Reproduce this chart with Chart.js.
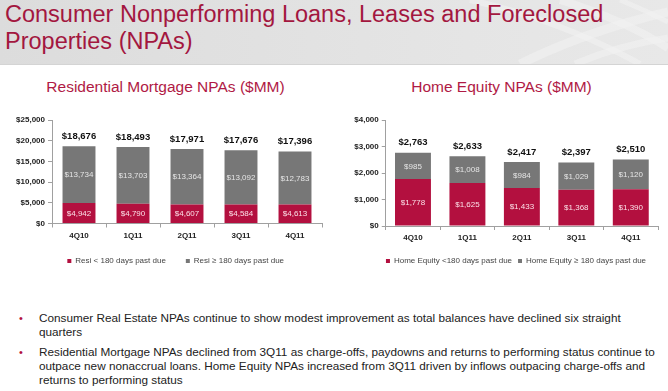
<!DOCTYPE html>
<html>
<head>
<meta charset="utf-8">
<script src="https://cdn.jsdelivr.net/npm/chart.js@4.4.1/dist/chart.umd.min.js"></script>
<style>
  html, body { margin: 0; padding: 0; background: #fff; }
  body { width: 668px; height: 391px; position: relative; overflow: hidden; font-family: "Liberation Sans", Arial, sans-serif; }
  #hdr { position: absolute; left: 0; top: 0; width: 668px; height: 64px; background: linear-gradient(to right, #dcdcdc, #e5e5e5 70%, #e8e8e8); border-bottom: 1px solid #d4d4d4; }
  #hdr svg { position: absolute; left: 0; top: 0; }
  #title { position: absolute; left: 5px; top: 1px; font-size: 23.5px; line-height: 27px; color: #a3173f; white-space: nowrap; }
  .sub { position: absolute; top: 78px; font-size: 15.5px; line-height: 17px; color: #b01a45; text-align: center; white-space: nowrap; }
  canvas { position: absolute; }
  .bl { position: absolute; left: 39px; font-size: 11.75px; line-height: 14px; color: #222; white-space: nowrap; }
  .dot { position: absolute; left: 19px; font-size: 11px; line-height: 14px; color: #b3103f; }
</style>
</head>
<body>
<div id="hdr">
  <svg width="668" height="64">
    <g fill="none" stroke="#f2f2f2" stroke-opacity="0.55">
      <path d="M520 64 Q590 30 668 12" stroke-width="9"/>
      <path d="M575 64 Q620 45 668 38" stroke-width="7"/>
      <path d="M470 0 Q560 20 640 64" stroke-width="6"/>
      <path d="M560 0 Q620 18 668 48" stroke-width="8"/>
      <path d="M620 0 Q645 10 668 22" stroke-width="5"/>
    </g>
  </svg>
  <div id="title">Consumer Nonperforming Loans, Leases and Foreclosed<br>Properties (NPAs)</div>
</div>
<div class="sub" style="left:0;width:331px;">Residential Mortgage NPAs ($MM)</div>
<div class="sub" style="left:335px;width:333px;">Home Equity NPAs ($MM)</div>

<canvas id="resi-npa-chart" width="335" height="190" style="left:0;top:100px;width:335px;height:190px;"></canvas>
<canvas id="he-npa-chart" width="333" height="180" style="left:335px;top:100px;width:333px;height:180px;"></canvas>

<div class="dot" style="top:311px;">&#8226;</div>
<div class="bl" style="top:311px;">Consumer Real Estate NPAs continue to show modest improvement as total balances have declined six straight<br>quarters</div>
<div class="dot" style="top:345px;">&#8226;</div>
<div class="bl" style="top:345px;">Residential Mortgage NPAs declined from 3Q11 as charge-offs, paydowns and returns to performing status continue to<br>outpace new nonaccrual loans. Home Equity NPAs increased from 3Q11 driven by inflows outpacing charge-offs and<br>returns to performing status</div>

<script>
// quarters on the x axis
const quarters = ["4Q10", "1Q11", "2Q11", "3Q11", "4Q11"];

// Residential mortgage NPAs ($MM)
const resiUnder180 = [4942, 4790, 4607, 4584, 4613];
const resiOver180 = [13734, 13703, 13364, 13092, 12783];

// Home equity NPAs ($MM)
const heUnder180 = [1778, 1625, 1433, 1368, 1390];
const heOver180 = [985, 1008, 984, 1029, 1120];

// y axis ranges
const resiAxisMax = 25000, resiAxisStep = 5000;
const heAxisMax = 4000, heAxisStep = 1000;

const RED = "#b3103f";
const GREY = "#777777";
const AXIS = "#a0a0a0";

Chart.defaults.font.family = '"Liberation Sans", Arial, sans-serif';
Chart.defaults.animation = false;

function money(v) {
    return "$" + Number(v).toLocaleString("en-US");
}

// draws the value inside each segment and the stack total above each bar
const stackLabels = {
    id: "stackLabels",
    afterDatasetsDraw(chart) {
        const ctx = chart.ctx;
        const datasets = chart.data.datasets;
        ctx.save();
        ctx.textAlign = "center";
        ctx.textBaseline = "middle";
        ctx.font = '8px "Liberation Sans", Arial, sans-serif';
        datasets.forEach((ds, i) => {
            const meta = chart.getDatasetMeta(i);
            ctx.fillStyle = ds.valueColor;
            meta.data.forEach((bar, j) => {
                ctx.fillText(money(ds.data[j]), bar.x, (bar.y + bar.base) / 2 + 0.5);
            });
        });
        const topMeta = chart.getDatasetMeta(datasets.length - 1);
        ctx.font = 'bold 9.5px "Liberation Sans", Arial, sans-serif';
        ctx.fillStyle = "#111";
        topMeta.data.forEach((bar, j) => {
            const total = datasets.reduce((s, ds) => s + ds.data[j], 0);
            ctx.fillText(money(total), bar.x, bar.y - 10);
        });
        ctx.restore();
    }
};

// nudges the legend so it sits where it does on the slide
const legendShift = {
    id: "legendShift",
    afterLayout(chart, args, opts) {
        const lg = chart.legend;
        if (!lg) return;
        lg.left += opts.dx || 0;
        lg.right += opts.dx || 0;
        lg.top += opts.dy || 0;
        lg.bottom += opts.dy || 0;
    }
};

function createStackedChart(canvasId, cfg) {
    return new Chart(canvasId, {
        type: "bar",
        data: {
            labels: quarters,
            datasets: [
                { label: cfg.labels[0], data: cfg.under, backgroundColor: RED, valueColor: "rgba(255,235,240,0.95)",
                  barPercentage: cfg.barPct, categoryPercentage: 1 },
                { label: cfg.labels[1], data: cfg.over, backgroundColor: GREY, valueColor: "rgba(235,235,235,0.95)",
                  barPercentage: cfg.barPct, categoryPercentage: 1 }
            ]
        },
        options: {
            responsive: false,
            layout: { padding: cfg.padding },
            plugins: {
                legend: {
                    position: "bottom",
                    labels: {
                        boxWidth: 4,
                        boxHeight: 4,
                        padding: cfg.legendGap,
                        color: "#444",
                        font: { size: 8 }
                    }
                },
                legendShift: cfg.legendShift,
                tooltip: { enabled: false }
            },
            scales: {
                x: {
                    stacked: true,
                    grid: { display: true, drawOnChartArea: false, tickLength: 4, color: AXIS },
                    border: { color: AXIS },
                    ticks: { color: "#222", font: { size: 8, weight: "bold" }, padding: 3 },
                    afterFit: (s) => { s.height = cfg.xHeight; }
                },
                y: {
                    stacked: true,
                    min: 0,
                    max: cfg.max,
                    grid: { display: true, drawOnChartArea: false, tickLength: 4, color: AXIS },
                    border: { color: AXIS },
                    ticks: {
                        stepSize: cfg.step,
                        color: "#222",
                        font: { size: 8, weight: "bold" },
                        padding: 3,
                        callback: (v) => money(v)
                    },
                    afterFit: (s) => { s.width = cfg.yWidth; }
                }
            }
        },
        plugins: [stackLabels, legendShift]
    });
}

createStackedChart("resi-npa-chart", {
    labels: ["Resi < 180 days past due", "Resi \u2265 180 days past due"],
    under: resiUnder180,
    over: resiOver180,
    max: resiAxisMax,
    step: resiAxisStep,
    barPct: 0.61,
    legendGap: 20,
    legendShift: { dx: 10.7, dy: -6.5 },
    padding: { left: 8, right: 13, top: 20, bottom: 8.5 },
    yWidth: 44,
    xHeight: 20
});

createStackedChart("he-npa-chart", {
    labels: ["Home Equity <180 days past due", "Home Equity \u2265 180 days past due"],
    under: heUnder180,
    over: heOver180,
    max: heAxisMax,
    step: heAxisStep,
    barPct: 0.66,
    legendGap: 6,
    legendShift: { dx: 14, dy: 0 },
    padding: { left: 11, right: 10, top: 20, bottom: 5 },
    yWidth: 39.75,
    xHeight: 25
});
</script>
</body>
</html>
